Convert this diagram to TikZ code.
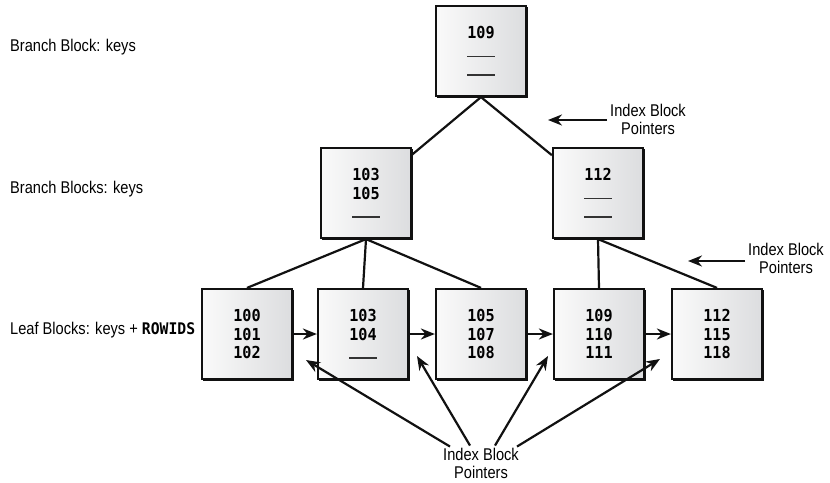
\documentclass[tikz,border=0pt]{standalone}
\usepackage{fontspec}
\setmainfont{Liberation Sans}[FakeStretch=0.86]
\newfontfamily\keyfont{DejaVu Sans Mono}[FakeStretch=0.92]
\usetikzlibrary{arrows.meta}

\definecolor{boxlight}{HTML}{FAFAFA}
\definecolor{boxdark}{HTML}{DCDDDF}
\definecolor{ink}{HTML}{111111}

% short rule that marks an empty key slot
\newcommand{\emptyslot}{\textcolor{black!80}{\rule{28pt}{1.6pt}}}

\begin{document}
\begin{tikzpicture}[x=1pt,y=-1pt,
    blockbox/.style={draw=ink, line width=2.2pt,
      minimum width=90pt, minimum height=90pt, inner sep=0pt,
      shading=axis, left color=boxlight, right color=boxdark,
      preaction={draw=ink, line width=1.3pt,
        transform canvas={shift={(1.5pt,-1.7pt)}}},
      postaction={draw=ink, line width=0.8pt,
        transform canvas={shift={(-0.9pt,0.8pt)}}},
      align=center,
      font=\keyfont\bfseries\fontsize{16.5}{18.5}\selectfont},
    tree/.style={draw=ink, line width=2.2pt},
    pointer/.style={draw=ink, line width=2.2pt,
      -{Stealth[length=14pt,width=11pt,inset=4.5pt]}},
    caption/.style={font=\fontsize{17}{18}\selectfont, inner sep=3pt},
    levelnote/.style={font=\fontsize{17}{18}\selectfont, anchor=base west, inner sep=0pt},
  ]
  \useasboundingbox (0,0) rectangle (830,482);

  % level captions
  \node[levelnote] (capRoot) at (10,51) {Branch Block: keys};
  \node[levelnote] (capBranch) at (10,193) {Branch Blocks: keys};
  \node[levelnote] (capLeaf) at (10,334)
    {Leaf Blocks: keys + {\keyfont\bfseries\fontsize{16}{18}\selectfont ROWIDS}};

  % root branch block
  \node[blockbox] (root) at (481,51) {109\\\emptyslot\\\emptyslot};

  % second level branch blocks
  \node[blockbox] (brA) at (366,193) {103\\105\\\emptyslot};
  \node[blockbox] (brB) at (598,193) {112\\\emptyslot\\\emptyslot};

  % leaf blocks
  \node[blockbox] (lfA) at (247,334) {100\\101\\102};
  \node[blockbox] (lfB) at (363,334) {103\\104\\\emptyslot};
  \node[blockbox] (lfC) at (481,334) {105\\107\\108};
  \node[blockbox] (lfD) at (599,334) {109\\110\\111};
  \node[blockbox] (lfE) at (717,334) {112\\115\\118};

  % tree edges
  \draw[tree] (root.south) -- (brA);
  \draw[tree] (root.south) -- (brB);
  \draw[tree] (brA.south) -- (lfA.north);
  \draw[tree] (brA.south) -- (lfB.north);
  \draw[tree] (brA.south) -- (lfC.north);
  \draw[tree] (brB.south) -- (lfD.north);
  \draw[tree] (brB.south) -- (lfE.north);

  % leaf chain
  \draw[pointer] (lfA.east) -- (lfB.west);
  \draw[pointer] (lfB.east) -- (lfC.west);
  \draw[pointer] (lfC.east) -- (lfD.west);
  \draw[pointer] (lfD.east) -- (lfE.west);

  % index block pointer captions
  \node[caption, align=center] (ipTop) at (648,119) {Index Block\\Pointers};
  \node[caption, align=center] (ipRight) at (786,258) {Index Block\\Pointers};
  \node[caption, align=center] (ipBottom) at (481,463) {Index Block\\Pointers};

  \coordinate (tipTop) at (548,120);
  \coordinate (tipRight) at (688,261);
  \coordinate (tipA) at (306,360);
  \coordinate (tipB) at (417,356);
  \coordinate (tipC) at (548,356);
  \coordinate (tipD) at (660,359);

  \draw[pointer] (ipTop.west |- tipTop) -- (tipTop);
  \draw[pointer] (ipRight.west |- tipRight) -- (tipRight);
  \draw[pointer] ([xshift=-31pt,yshift=-2pt]ipBottom.north) -- (tipA);
  \draw[pointer] ([xshift=-11pt,yshift=-1pt]ipBottom.north) -- (tipB);
  \draw[pointer] ([xshift=14pt,yshift=-1pt]ipBottom.north) -- (tipC);
  \draw[pointer] ([xshift=36pt,yshift=-2pt]ipBottom.north) -- (tipD);
\end{tikzpicture}
\end{document}
